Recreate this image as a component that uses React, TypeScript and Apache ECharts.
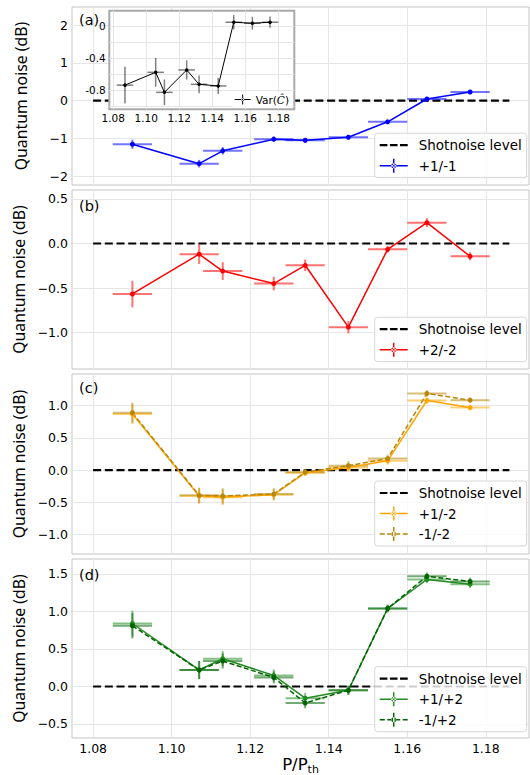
import React, { useEffect, useRef } from 'react';
import * as echarts from 'echarts';

// ---------------- data ----------------
const xTicks = [1.08, 1.1, 1.12, 1.14, 1.16, 1.18];
const pumpRatio = [1.09, 1.107, 1.113, 1.126, 1.134, 1.145, 1.155, 1.165, 1.176];
const pumpErr = [0.005, 0.005, 0.005, 0.005, 0.005, 0.005, 0.005, 0.005, 0.005];
const shotX = [1.08, 1.186];
const shotY = [0, 0];

const noiseP1M1 = [-1.155, -1.67, -1.33, -1.02, -1.05, -0.97, -0.56, 0.045, 0.23];
const errP1M1 = [0.12, 0.1, 0.1, 0.07, 0.06, 0.05, 0.04, 0.03, 0.03];

const noiseP2M2 = [-0.567, -0.12, -0.31, -0.45, -0.245, -0.94, -0.066, 0.234, -0.144];
const errP2M2 = [0.15, 0.11, 0.1, 0.077, 0.065, 0.07, 0.04, 0.05, 0.045];

const noiseP1M2 = [0.87, -0.4, -0.42, -0.38, -0.04, 0.04, 0.145, 1.08, 0.97];
const noiseM1M2 = [0.89, -0.39, -0.4, -0.37, -0.03, 0.07, 0.18, 1.19, 1.085];
const errC = [0.155, 0.12, 0.12, 0.09, 0.05, 0.07, 0.06, 0.05, 0.04];

const noiseP1P2 = [0.84, 0.22, 0.37, 0.147, -0.156, -0.05, 1.04, 1.427, 1.364];
const noiseM1P2 = [0.81, 0.22, 0.34, 0.12, -0.22, -0.05, 1.04, 1.47, 1.4];
const errD = [0.17, 0.12, 0.1, 0.08, 0.07, 0.06, 0.05, 0.05, 0.05];

const insetPump = [1.0871, 1.1057, 1.111, 1.1245, 1.132, 1.1436, 1.153, 1.1643, 1.175];
const insetVar = [-0.74, -0.58, -0.83, -0.55, -0.73, -0.75, 0.046, 0.033, 0.046];
const insetVarErr = [0.23, 0.18, 0.16, 0.12, 0.11, 0.1, 0.09, 0.08, 0.07];

const yTicksA = [-2, -1, 0, 1, 2];
const yTicksB = [-1, -0.5, 0, 0.5];
const yTicksC = [-1, -0.5, 0, 0.5, 1];
const yTicksD = [-0.5, 0, 0.5, 1, 1.5];
const insetYGrid = [-1, -0.8, -0.6, -0.4, -0.2, 0];
const insetYLabels = [-0.8, -0.4, 0];

// ---------------- layout ----------------
const FONT = 'DejaVu Sans';
const panels = [
  { top: 7, height: 178, yMin: -2.236, yMax: 2.485, ticks: yTicksA, dec: 0, tag: '(a)', tagY: 20 },
  { top: 190, height: 179, yMin: -1.41, yMax: 0.601, ticks: yTicksB, dec: 1, tag: '(b)', tagY: 205.7 },
  { top: 374, height: 180, yMin: -1.299, yMax: 1.491, ticks: yTicksC, dec: 1, tag: '(c)', tagY: 388.3 },
  { top: 559, height: 179, yMin: -0.687, yMax: 1.7, ticks: yTicksD, dec: 1, tag: '(d)', tagY: 575 },
];

const ICON_DASH =
  'path://M0,0L0,0ZM28,14L28,14ZM0,5.9h7.7v2.2h-7.7zM10.2,5.9h7.6v2.2h-7.6zM20.3,5.9h7.7v2.2h-7.7z';
const ICON_EB =
  'path://M0,6.25h28v1.5h-28zM13.25,0h1.5v14h-1.5zM11.5,7a2.5,2.5,0,1,0,5,0a2.5,2.5,0,1,0,-5,0z';
const ICON_EB_DASH =
  'path://M0,6.25h5v1.5h-5zM7.5,6.25h4.5v1.5h-4.5zM16,6.25h4.5v1.5h-4.5zM23,6.25h5v1.5h-5zM13.25,0h1.5v14h-1.5zM11.5,7a2.5,2.5,0,1,0,5,0a2.5,2.5,0,1,0,-5,0z';
const ICON_EB_SMALL =
  'path://M0,4.5h16v1h-16zM7.5,0h1v10h-1zM6.5,5a1.5,1.5,0,1,0,3,0a1.5,1.5,0,1,0,-3,0z';

const fmtMain = (dec: number) => (v: number) => {
  const s = Math.abs(v).toFixed(dec);
  return (v < -1e-9 ? '\u2212' : '') + s;
};

function errorSeries(
  idx: number,
  xs: number[],
  ys: number[],
  xe: number[],
  ye: number[],
  color: string,
  width: number,
  opacity: number,
  z: number
) {
  return {
    type: 'custom',
    xAxisIndex: idx,
    yAxisIndex: idx,
    silent: true,
    z,
    dimensions: ['x', 'y', 'xe', 'ye'],
    encode: { x: 0, y: 1 },
    data: xs.map((x, i) => [x, ys[i], xe[i], ye[i]]),
    renderItem: (_params: any, api: any) => {
      const x = api.value(0);
      const y = api.value(1);
      const dx = api.value(2);
      const dy = api.value(3);
      const l = api.coord([x - dx, y]);
      const r = api.coord([x + dx, y]);
      const t = api.coord([x, y + dy]);
      const b = api.coord([x, y - dy]);
      const style = { stroke: color, lineWidth: width, opacity };
      return {
        type: 'group',
        children: [
          { type: 'line', shape: { x1: l[0], y1: l[1], x2: r[0], y2: r[1] }, style },
          { type: 'line', shape: { x1: t[0], y1: t[1], x2: b[0], y2: b[1] }, style },
        ],
      };
    },
  };
}

function lineSeries(
  idx: number,
  name: string,
  xs: number[],
  ys: number[],
  color: string,
  dash: any,
  width: number,
  size: number,
  z: number
) {
  return {
    type: 'line',
    name,
    xAxisIndex: idx,
    yAxisIndex: idx,
    data: xs.map((x, i) => [x, ys[i]]),
    symbol: 'circle',
    symbolSize: size,
    showSymbol: true,
    lineStyle: { color, width, type: dash },
    itemStyle: { color },
    silent: true,
    z,
  };
}

function shotSeries(idx: number) {
  return {
    type: 'line',
    name: 'Shotnoise level',
    xAxisIndex: idx,
    yAxisIndex: idx,
    data: shotX.map((x, i) => [x, shotY[i]]),
    symbol: 'none',
    lineStyle: { color: '#000', width: 2.2, type: [8, 3.7] },
    itemStyle: { color: '#000' },
    silent: true,
    z: 2,
  };
}

function legendFor(bottom: number, items: any[]) {
  return {
    orient: 'vertical',
    right: 3.3,
    bottom,
    z: 6,
    data: items,
    itemWidth: 28,
    itemHeight: 14,
    itemGap: 4.5,
    padding: [4, 5, 4, 5],
    backgroundColor: 'rgba(255,255,255,0.8)',
    borderColor: '#d6d6d6',
    borderWidth: 1,
    borderRadius: 3,
    itemStyle: { borderWidth: 0 },
    selectedMode: false,
    textStyle: { fontFamily: FONT, fontSize: 13.5, color: '#000', lineHeight: 16, padding: [0, 0, 0, 6] },
  };
}

function buildOption() {
  const grid: any[] = panels.map((p) => ({
    left: 72,
    width: 457,
    top: p.top,
    height: p.height,
    show: true,
    borderColor: '#c4c4c4',
    borderWidth: 1,
    backgroundColor: 'transparent',
    containLabel: false,
    outerBoundsMode: 'none',
  }));
  grid.push({
    left: 109.3,
    top: 10.7,
    width: 185,
    height: 98.6,
    show: true,
    borderColor: '#a9a9a9',
    borderWidth: 2,
    backgroundColor: '#ffffff',
    containLabel: false,
    outerBoundsMode: 'none',
    z: 5,
  });

  const xAxis: any[] = panels.map((_p, i) => ({
    type: 'value',
    gridIndex: i,
    min: 1.07462,
    max: 1.191,
    axisLine: { show: false },
    axisTick: { show: false, customValues: xTicks },
    axisLabel: {
      show: i === 3,
      customValues: xTicks,
      formatter: (v: number) => v.toFixed(2),
      color: '#000',
      fontFamily: FONT,
      fontSize: 12.5,
      margin: 4,
    },
    splitLine: { show: true, lineStyle: { color: '#e5e5e5', width: 1 } },
    name: i === 3 ? '{a|P/P}{b|th}' : '',
    nameLocation: 'middle',
    nameGap: 12,
    nameTextStyle: {
      rich: {
        a: { fontFamily: FONT, fontSize: 16.5, color: '#000', lineHeight: 22, verticalAlign: 'middle' },
        b: { fontFamily: FONT, fontSize: 11, color: '#000', lineHeight: 11, verticalAlign: 'bottom' },
      },
    },
  }));
  xAxis.push({
    type: 'value',
    gridIndex: 4,
    min: 1.0776,
    max: 1.1897,
    z: 6,
    axisLine: { show: false },
    axisTick: { show: false, customValues: xTicks },
    axisLabel: {
      customValues: xTicks,
      formatter: (v: number) => v.toFixed(2),
      color: '#000',
      fontFamily: FONT,
      fontSize: 10.5,
      margin: 3,
    },
    splitLine: { show: true, lineStyle: { color: '#e5e5e5', width: 1 } },
  });

  const yAxis: any[] = panels.map((p, i) => ({
    type: 'value',
    gridIndex: i,
    min: p.yMin,
    max: p.yMax,
    axisLine: { show: false },
    axisTick: { show: false, customValues: p.ticks },
    axisLabel: {
      customValues: p.ticks,
      formatter: fmtMain(p.dec),
      color: '#000',
      fontFamily: FONT,
      fontSize: 12.5,
      margin: 4,
    },
    splitLine: { show: true, lineStyle: { color: '#e5e5e5', width: 1 } },
    name: 'Quantum noise (dB)',
    nameLocation: 'middle',
    nameGap: 43,
    nameTextStyle: { fontFamily: 'Noto Sans', fontSize: 15.8, color: '#000' },
  }));
  yAxis.push({
    type: 'value',
    gridIndex: 4,
    min: -1.042,
    max: 0.19,
    z: 6,
    axisLine: { show: false },
    axisTick: { show: false, customValues: insetYGrid },
    axisLabel: {
      customValues: insetYLabels,
      formatter: (v: number) => (Math.abs(v) < 1e-9 ? '0' : v.toFixed(1)),
      color: '#000',
      fontFamily: FONT,
      fontSize: 10.5,
      margin: 3.5,
    },
    splitLine: { show: true, lineStyle: { color: '#e5e5e5', width: 1 } },
  });

  const series: any[] = [];
  // (a)
  series.push(shotSeries(0));
  series.push(errorSeries(0, pumpRatio, noiseP1M1, pumpErr, errP1M1, '#0000ff', 2, 0.55, 3));
  series.push(lineSeries(0, '+1/-1', pumpRatio, noiseP1M1, '#0000ff', 'solid', 1.5, 5, 4));
  // (b)
  series.push(shotSeries(1));
  series.push(errorSeries(1, pumpRatio, noiseP2M2, pumpErr, errP2M2, '#ff0000', 2, 0.55, 3));
  series.push(lineSeries(1, '+2/-2', pumpRatio, noiseP2M2, '#ff0000', 'solid', 1.5, 5, 4));
  // (c)
  series.push(shotSeries(2));
  series.push(errorSeries(2, pumpRatio, noiseP1M2, pumpErr, errC, '#ffa500', 2, 0.55, 3));
  series.push(lineSeries(2, '+1/-2', pumpRatio, noiseP1M2, '#ffa500', 'solid', 1.5, 5, 4));
  series.push(errorSeries(2, pumpRatio, noiseM1M2, pumpErr, errC, '#b8860b', 2, 0.55, 3));
  series.push(lineSeries(2, '-1/-2', pumpRatio, noiseM1M2, '#b8860b', [5, 2.5], 1.5, 5, 4));
  // (d)
  series.push(shotSeries(3));
  series.push(errorSeries(3, pumpRatio, noiseP1P2, pumpErr, errD, '#228b22', 2, 0.55, 3));
  series.push(lineSeries(3, '+1/+2', pumpRatio, noiseP1P2, '#228b22', 'solid', 1.5, 5, 4));
  series.push(errorSeries(3, pumpRatio, noiseM1P2, pumpErr, errD, '#006400', 2, 0.55, 3));
  series.push(lineSeries(3, '-1/+2', pumpRatio, noiseM1P2, '#006400', [5, 2.5], 1.5, 5, 4));
  // inset
  series.push(errorSeries(4, insetPump, insetVar, pumpErr, insetVarErr, '#000000', 1.5, 0.5, 7));
  const insetLine: any = lineSeries(4, 'Var(\u0108)', insetPump, insetVar, '#000000', 'solid', 1, 3.5, 8);
  insetLine.markLine = {
    silent: true,
    symbol: 'none',
    label: { show: false },
    lineStyle: { color: '#000', width: 0.8, type: [3, 2] },
    data: [{ yAxis: 0 }],
  };
  series.push(insetLine);

  const legend: any[] = [
    legendFor(597.3, [
      { name: 'Shotnoise level', icon: ICON_DASH },
      { name: '+1/-1', icon: ICON_EB },
    ]),
    legendFor(413.3, [
      { name: 'Shotnoise level', icon: ICON_DASH },
      { name: '+2/-2', icon: ICON_EB },
    ]),
    legendFor(229, [
      { name: 'Shotnoise level', icon: ICON_DASH },
      { name: '+1/-2', icon: ICON_EB },
      { name: '-1/-2', icon: ICON_EB_DASH },
    ]),
    legendFor(43.3, [
      { name: 'Shotnoise level', icon: ICON_DASH },
      { name: '+1/+2', icon: ICON_EB },
      { name: '-1/+2', icon: ICON_EB_DASH },
    ]),
    {
      orient: 'vertical',
      right: 239,
      bottom: 668,
      z: 9,
      data: [{ name: 'Var(\u0108)', icon: ICON_EB_SMALL }],
      itemWidth: 16,
      itemHeight: 10,
      padding: [2, 2, 2, 2],
      backgroundColor: 'rgba(255,255,255,0.8)',
      borderWidth: 0,
      itemStyle: { borderWidth: 0 },
      selectedMode: false,
      formatter: () => 'Var({i|\u0108})',
      textStyle: {
        fontFamily: FONT,
        fontSize: 10.5,
        color: '#000',
        padding: [0, 0, 0, 0],
        rich: { i: { fontFamily: 'DejaVu Serif', fontStyle: 'italic', fontSize: 10.5, color: '#000' } },
      },
    },
  ];

  const graphic: any[] = panels.map((p) => ({
    type: 'text',
    x: 79,
    y: p.tagY,
    z: 10,
    silent: true,
    style: { text: p.tag, fontFamily: FONT, fontSize: 14.5, fill: '#000', verticalAlign: 'middle', align: 'left' },
  }));

  return {
    animation: false,
    backgroundColor: '#ffffff',
    textStyle: { fontFamily: FONT },
    grid,
    xAxis,
    yAxis,
    series,
    legend,
    graphic,
  };
}

export default function App() {
  const ref = useRef<HTMLDivElement>(null);
  useEffect(() => {
    if (!ref.current) return;
    const chart = echarts.init(ref.current, undefined, { renderer: 'svg' });
    chart.setOption(buildOption() as any);
    return () => chart.dispose();
  }, []);
  return <div ref={ref} style={{ position: 'absolute', left: 0, top: 0, width: 530, height: 775 }} />;
}
